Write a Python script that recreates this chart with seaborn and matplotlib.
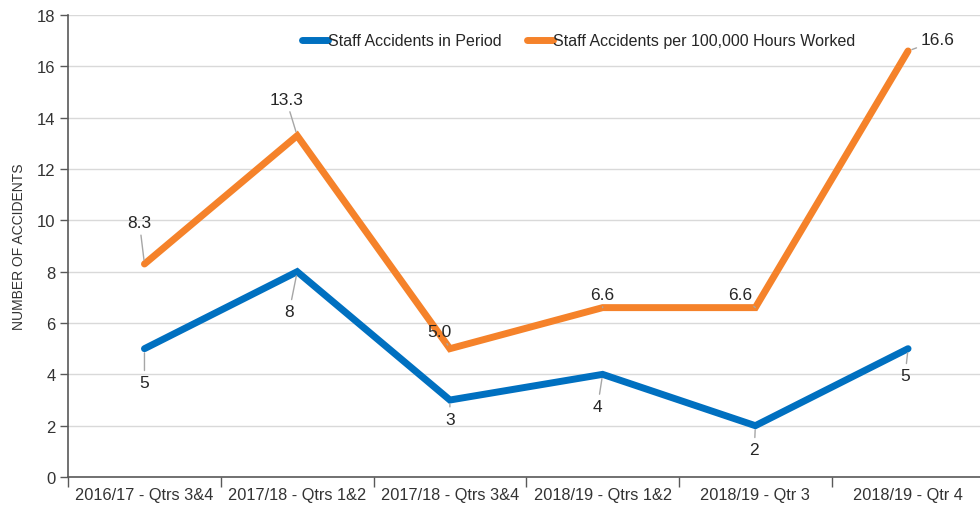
# Staff accidents chart
import matplotlib
matplotlib.use("Agg")
import matplotlib.pyplot as plt
import seaborn as sns
import pandas as pd
import numpy as np

periods = ["2016/17 - Qtrs 3&4", "2017/18 - Qtrs 1&2", "2017/18 - Qtrs 3&4",
           "2018/19 - Qtrs 1&2", "2018/19 - Qtr 3", "2018/19 - Qtr 4"]
accidents = [5, 8, 3, 4, 2, 5]
per_100k = [8.3, 13.3, 5.0, 6.6, 6.6, 16.6]
series_names = ["Staff Accidents in Period", "Staff Accidents per 100,000 Hours Worked"]
y_ticks = [0, 2, 4, 6, 8, 10, 12, 14, 16, 18]

# label offsets in pixels (dx, dy) from each point
acc_offsets = [(0, -34), (-8, -40), (0, -19), (-5, -32), (-1, -24), (-3, -27)]
rate_offsets = [(-5, 41), (-11, 36), (-10, 17), (0, 13), (-15, 13), (30, 11)]

sns.set_theme(style="white")
plt.rcParams["font.family"] = ["Liberation Sans", "DejaVu Sans"]

df = pd.DataFrame({
    "x": list(range(len(periods))) * 2,
    "value": accidents + per_100k,
    "series": [series_names[0]] * len(periods) + [series_names[1]] * len(periods),
})

blue = "#0070C0"
orange = "#F5822A"

fig = plt.figure(figsize=(9.8, 5.06), dpi=100)
ax = fig.add_axes([0.0695, 0.0553, 0.935, 0.913])

ax.grid(axis="y", color="#D9D9D9", linewidth=1)
ax.set_axisbelow(True)

sns.lineplot(data=df, x="x", y="value", hue="series", palette=[blue, orange],
             linewidth=5, ax=ax, legend=True, solid_capstyle="round",
             solid_joinstyle="miter")

ax.set_xlim(-0.5, len(periods) - 0.5)
ax.set_ylim(0, 18)
ax.set_yticks(y_ticks)
ax.set_xticks(range(len(periods)))
ax.set_xticklabels(periods, fontsize=11.8, color="#333333")
ax.set_xticks(np.arange(-0.5, len(periods)), minor=True)
ax.tick_params(axis="x", which="major", bottom=True, length=0, pad=7)
ax.tick_params(axis="x", which="minor", bottom=True, length=7, color="#595959", width=1)
ax.tick_params(axis="y", left=True, length=6, color="#595959", width=1, labelsize=12,
               labelcolor="#333333", pad=3)
ax.set_xlabel("")
ax.set_ylabel("NUMBER OF ACCIDENTS", fontsize=10, color="#333333",
              family=["Liberation Sans Narrow", "Liberation Sans"], labelpad=8)

for s in ["top", "right"]:
    ax.spines[s].set_visible(False)
for s in ["left", "bottom"]:
    ax.spines[s].set_color("#595959")
    ax.spines[s].set_linewidth(1.2)

for i, v in enumerate(accidents):
    ax.annotate(f"{v}", (i, v), xytext=acc_offsets[i], textcoords="offset pixels",
                ha="center", va="center", fontsize=12.5, color="#262626",
                arrowprops=dict(arrowstyle="-", color="#A6A6A6", lw=1,
                                shrinkA=1, shrinkB=3))
for i, v in enumerate(per_100k):
    ax.annotate(f"{v:.1f}", (i, v), xytext=rate_offsets[i], textcoords="offset pixels",
                ha="center", va="center", fontsize=12.5, color="#262626",
                arrowprops=dict(arrowstyle="-", color="#A6A6A6", lw=1,
                                shrinkA=1, shrinkB=3))

leg = ax.legend(loc="center", bbox_to_anchor=(0.557, 0.944), ncol=2, frameon=False,
                fontsize=11.5, handlelength=1.6, handletextpad=0.0,
                columnspacing=1.6)
for t in leg.get_texts():
    t.set_color("#262626")

fig.savefig("out.png", dpi=100)
